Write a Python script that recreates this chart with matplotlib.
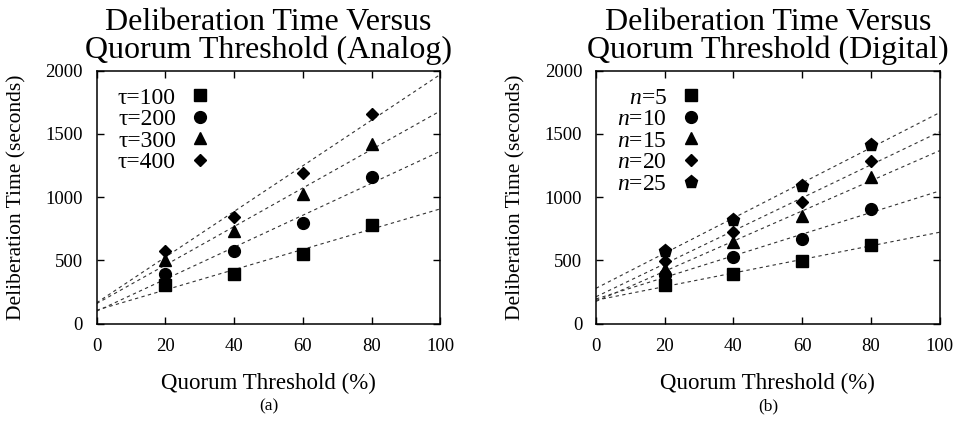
"""Deliberation time versus quorum threshold, analog and digital panels."""

import matplotlib

matplotlib.use("Agg")
import matplotlib.pyplot as plt
import numpy as np

plt.rcParams["font.family"] = ["Liberation Serif", "DejaVu Serif"]
plt.rcParams["mathtext.fontset"] = "custom"
plt.rcParams["mathtext.rm"] = "Liberation Serif"
plt.rcParams["mathtext.it"] = "Liberation Serif:italic"

quorum = [20, 40, 60, 80]

analog_labels = ["τ=100", "τ=200", "τ=300", "τ=400"]
analog_times = [
    [302, 392, 553, 782],
    [395, 571, 795, 1163],
    [505, 729, 1026, 1421],
    [571, 847, 1195, 1658],
]

digital_labels = [r"$\enspace\,n$=5", r"$n$=10", r"$n$=15", r"$n$=20", r"$n$=25"]
digital_times = [
    [302, 393, 498, 625],
    [387, 524, 672, 907],
    [432, 646, 854, 1157],
    [492, 725, 959, 1283],
    [574, 822, 1091, 1410],
]

MARKERS = [("s", 9), ("o", 8.5), ("^", 9), ("D", 6.5), ("p", 9.5)]


def draw_panel(ax, labels, times, title):
    x_fit = np.array([0, 100])
    for (marker, size), label, series in zip(MARKERS, labels, times):
        slope, intercept = np.polyfit(quorum, series, 1)
        ax.plot(x_fit, slope * x_fit + intercept, color="#333333", lw=0.8,
                ls=(0, (3, 3)), zorder=1)
        ax.plot(quorum, series, ls="none", marker=marker, ms=size,
                color="black", label=label, zorder=2)

    ax.set_xlim(0, 100)
    ax.set_ylim(0, 2000)
    ax.set_xticks(range(0, 101, 20))
    ax.set_yticks(range(0, 2001, 500))
    ax.tick_params(direction="in", length=5, width=1, top=True, right=True,
                   labelsize=13.5, pad=10)
    for spine in ax.spines.values():
        spine.set_linewidth(1.1)

    ax.set_title(title, fontsize=23, linespacing=0.93, pad=9)
    ax.set_xlabel("Quorum Threshold (%)", fontsize=16.5)
    ax.set_ylabel("Deliberation Time (seconds)", fontsize=15.5)
    ax.xaxis.set_label_coords(0.5, -0.195)
    ax.yaxis.set_label_coords(-0.205, 0.5)

    ax.legend(loc="upper left", bbox_to_anchor=(0.062, 0.935), frameon=False,
              markerfirst=False, numpoints=1, fontsize=17, handlelength=1.0,
              handletextpad=0.5, labelspacing=0.0, borderpad=0,
              borderaxespad=0)


fig = plt.figure(figsize=(9.59, 4.30), dpi=100)
ax_analog = fig.add_axes([0.1008, 0.2472, 0.3583, 0.5884])
ax_digital = fig.add_axes([0.6215, 0.2472, 0.3583, 0.5884])

draw_panel(ax_analog, analog_labels, analog_times,
           "Deliberation Time Versus\nQuorum Threshold (Analog)")
draw_panel(ax_digital, digital_labels, digital_times,
           "Deliberation Time Versus\nQuorum Threshold (Digital)")

fig.text(0.1008 + 0.3583 / 2, 0.056, "(a)", ha="center", va="center", fontsize=12.5)
fig.text(0.6215 + 0.3583 / 2, 0.056, "(b)", ha="center", va="center", fontsize=12.5)

fig.savefig("out.png", dpi=100)
plt.close(fig)
